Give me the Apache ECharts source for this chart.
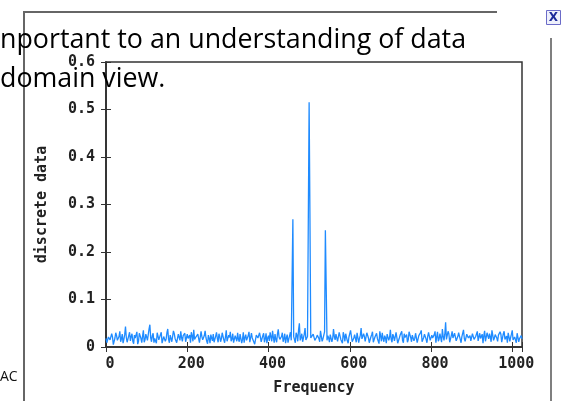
<!DOCTYPE html>
<html>
<head>
<meta charset="utf-8">
<script src="https://cdn.jsdelivr.net/npm/echarts@6/dist/echarts.min.js"></script>
<style>
html,body{margin:0;padding:0;background:#fff;}
#c{width:562px;height:401px;}
</style>
</head>
<body>
<div id="c"></div>
<script>
// Amplitudes at frequencies 0, 4, 8, ... 1024
var amplitudeEven = [
  .018,.006,.025,.012,.021,.009,.030,.014,.022,.011,.027,.016,.043,.010,.024,.013,
  .028,.007,.019,.032,.012,.024,.009,.035,.015,.021,.026,.047,.011,.029,.018,.008,
  .023,.014,.031,.010,.026,.017,.038,.009,.022,.013,.028,.019,.007,.025,.033,.012,
  .020,.011,.027,.015,.009,.024,.036,.013,.018,.029,.010,.022,.016,.034,.012,.025,
  .008,.019,.027,.014,.031,.010,.022,.017,.026,.009,.035,.015,.020,.012,.028,.006,
  .021,.030,.011,.024,.016,.009,.026,.018,.032,.012,.019,.023,.010,.027,.015,.021,
  .013,.029,.017,.008,.024,.031,.012,.020,.027,.010,.037,.016,.022,.011,.028,.019,
  .009,.024,.014,.269,.018,.030,.012,.050,.020,.011,.027,.015,.022,.515,.019,.016,
  .031,.010,.025,.018,.034,.012,.021,.246,.014,.019,.026,.011,.038,.015,.023,.009,
  .027,.017,.031,.012,.024,.008,.020,.033,.014,.026,.010,.029,.018,.040,.013,.022,
  .016,.028,.009,.021,.032,.013,.025,.018,.007,.023,.030,.011,.019,.027,.014,.036,
  .010,.022,.017,.029,.012,.025,.033,.009,.020,.026,.015,.031,.011,.024,.018,.028,
  .013,.021,.035,.010,.027,.016,.023,.030,.012,.019,.026,.009,.032,.017,.024,.038,
  .014,.052,.020,.028,.011,.033,.018,.025,.009,.030,.016,.022,.036,.012,.027,.019,
  .024,.010,.031,.017,.026,.013,.029,.021,.008,.034,.015,.023,.028,.011,.025,.019,
  .030,.012,.022,.027,.014,.033,.018,.009,.026,.020,.035,.013,.024,.029,.011,.021,
  .017
];
// Amplitudes at frequencies 2, 6, 10, ... 1022
var amplitudeOdd = [
  .009,.021,.015,.028,.005,.019,.024,.011,.033,.017,.008,.026,.020,.013,.031,.022,
  .012,.025,.016,.006,.029,.018,.023,.010,.027,.014,.038,.019,.024,.009,.021,.030,
  .015,.026,.008,.022,.012,.030,.016,.025,.011,.034,.018,.009,.027,.014,.020,.024,
  .029,.008,.018,.025,.031,.012,.016,.022,.027,.009,.033,.015,.024,.020,.007,.018,
  .026,.013,.010,.023,.018,.028,.011,.030,.015,.021,.012,.025,.032,.017,.009,.024,
  .012,.016,.027,.008,.031,.020,.014,.024,.010,.029,.017,.006,.025,.019,.030,.011,
  .024,.010,.029,.019,.013,.022,.034,.009,.016,.027,.021,.012,.030,.017,.008,.026,
  .017,.031,.012,.022,.009,.025,.036,.014,.028,.019,.040,.012,.026,.277,.021,.027,
  .014,.020,.029,.011,.023,.017,.032,.128,.024,.010,.030,.018,.022,.027,.012,.031,
  .016,.008,.024,.028,.013,.021,.035,.011,.019,.023,.030,.009,.025,.017,.028,.012,
  .030,.019,.013,.026,.010,.021,.029,.015,.033,.012,.018,.024,.008,.031,.020,.016,
  .027,.013,.031,.008,.019,.023,.014,.028,.017,.010,.032,.020,.025,.013,.029,.009,
  .024,.030,.011,.020,.026,.009,.031,.014,.025,.017,.033,.021,.012,.028,.010,.022,
  .027,.016,.033,.010,.024,.019,.029,.013,.022,.034,.009,.026,.018,.011,.031,.023,
  .013,.028,.016,.022,.033,.009,.018,.027,.024,.012,.030,.017,.021,.035,.014,.026,
  .019,.025,.032,.010,.028,.016,.023,.030,.012,.027,.015,.021,.009,.031,.018,.024
];
var freqStep = 4;
var xTicks = [0, 200, 400, 600, 800, 1000];
var yTicks = [0, 0.1, 0.2, 0.3, 0.4, 0.5, 0.6];
var slideLines = ['nportant to an understanding of data', 'domain view.'];
var footerText = 'AC';

var points = [];
amplitudeEven.forEach(function (v, i) {
  points.push([i * freqStep, v]);
  if (i < amplitudeOdd.length) points.push([i * freqStep + freqStep / 2, amplitudeOdd[i]]);
});

var mono = '"DejaVu Sans Mono", monospace';
var labelStyle = { fontFamily: mono, fontWeight: 'bold', fontSize: 15, color: '#222' };
var frame = '#333';
var plain = function (v) { return String(v); };

var chart = echarts.init(document.getElementById('c'), null, { renderer: 'canvas' });
chart.setOption({
  backgroundColor: '#fff',
  animation: false,
  grid: { left: 106, right: 40, top: 62, bottom: 49, show: true, borderColor: frame, borderWidth: 1.5, backgroundColor: 'transparent' },
  xAxis: [{
    type: 'value', min: 0, max: 1024, interval: 200, position: 'bottom',
    name: 'Frequency', nameLocation: 'middle', nameGap: 34,
    nameTextStyle: { fontFamily: mono, fontWeight: 'bold', fontSize: 15, color: '#222' },
    axisLine: { show: true, lineStyle: { color: frame, width: 1.5 } },
    axisTick: { show: true, inside: true, length: 5, lineStyle: { color: frame } },
    axisLabel: Object.assign({ margin: 10, customValues: xTicks, padding: [0, 0, 0, 8], formatter: plain }, labelStyle),
    splitLine: { show: false }
  }, {
    type: 'value', min: 0, max: 1024, interval: 200, position: 'top',
    axisLine: { show: true, lineStyle: { color: frame, width: 1.5 } },
    axisTick: { show: true, inside: true, length: 5, lineStyle: { color: frame } },
    axisLabel: { show: false },
    splitLine: { show: false }
  }],
  yAxis: [{
    type: 'value', min: 0, max: 0.6, interval: 0.1, position: 'left',
    name: 'discrete data', nameLocation: 'middle', nameGap: 56, nameRotate: 90,
    nameTextStyle: { fontFamily: mono, fontWeight: 'bold', fontSize: 15, color: '#222' },
    axisLine: { show: true, lineStyle: { color: frame, width: 1.5 } },
    axisTick: { show: true, inside: true, length: 5, lineStyle: { color: frame } },
    axisLabel: Object.assign({ margin: 11, customValues: yTicks, formatter: plain }, labelStyle),
    splitLine: { show: false }
  }, {
    type: 'value', min: 0, max: 0.6, interval: 0.1, position: 'right',
    axisLine: { show: true, lineStyle: { color: frame, width: 1.5 } },
    axisTick: { show: true, inside: true, length: 5, lineStyle: { color: frame } },
    axisLabel: { show: false },
    splitLine: { show: false }
  }],
  series: [{
    type: 'line', data: points, xAxisIndex: 0, yAxisIndex: 0,
    showSymbol: false, symbol: 'none',
    lineStyle: { color: '#1f8bff', width: 1.3 },
    z: 2
  }],
  graphic: [
    { type: 'line', z: 100, shape: { x1: 23, y1: 12, x2: 497, y2: 12 }, style: { stroke: '#666', lineWidth: 2 } },
    { type: 'line', z: 100, shape: { x1: 24, y1: 12, x2: 24, y2: 401 }, style: { stroke: '#666', lineWidth: 2 } },
    { type: 'line', z: 100, shape: { x1: 551, y1: 38, x2: 551, y2: 401 }, style: { stroke: '#555', lineWidth: 1.5 } },
    { type: 'rect', z: 100, shape: { x: 546.5, y: 10.5, width: 14, height: 14 }, style: { fill: '#eef0fb', stroke: '#6b6bc8', lineWidth: 1 } },
    { type: 'text', z: 101, x: 553.5, y: 17.5, style: { text: 'X', fontFamily: '"DejaVu Sans", sans-serif', fontWeight: 'bold', fontSize: 12, fill: '#1c2a9a', align: 'center', verticalAlign: 'middle' } },
    { type: 'text', z: 101, x: 0, y: 27, style: { text: slideLines[0], fontFamily: '"Open Sans", sans-serif', fontSize: 26.8, fill: '#000', align: 'left', verticalAlign: 'top' } },
    { type: 'text', z: 101, x: 0, y: 66, style: { text: slideLines[1], fontFamily: '"Open Sans", sans-serif', fontSize: 26.8, fill: '#000', align: 'left', verticalAlign: 'top' } },
    { type: 'text', z: 101, x: 0, y: 370, style: { text: footerText, fontFamily: '"Open Sans", sans-serif', fontSize: 14, fill: '#111', align: 'left', verticalAlign: 'top' } }
  ]
});
</script>
</body>
</html>
